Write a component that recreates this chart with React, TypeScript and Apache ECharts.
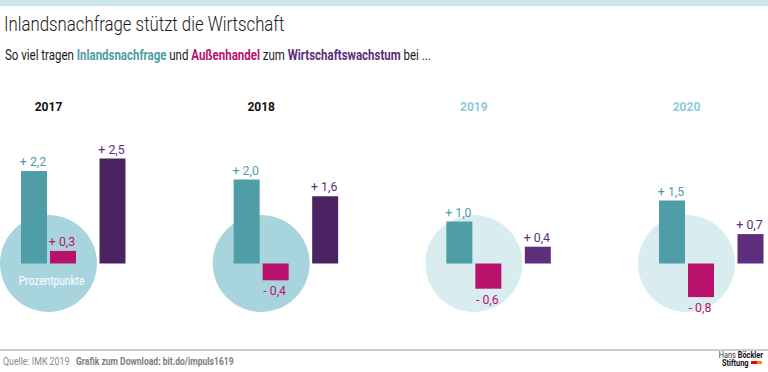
import React, { useEffect, useRef } from "react";
import * as echarts from "echarts";

const years = ["2017", "2018", "2019", "2020"];
const forecast = [false, false, true, true];
const inland = [2.2, 2.0, 1.0, 1.5];
const aussen = [0.3, -0.4, -0.6, -0.8];
const wachstum = [2.5, 1.6, 0.4, 0.7];

const FONT = "Roboto, 'Noto Sans', sans-serif";

const TEAL = "#4f9da6";
const MAGENTA = "#b8126d";
const PURPLE_DARK = "#4b2362";
const PURPLE_LIGHT = "#5c2e7b";
const PURPLE_LABEL = "#5a2d78";

const fmt = (v: number) => (v >= 0 ? "+ " : "- ") + Math.abs(v).toFixed(1).replace(".", ",");

function txt(text: string, x: number, y: number, font: string, fill: string, sx = 1, align = "left", extra: any = {}) {
  return {
    type: "text",
    x,
    y,
    scaleX: sx,
    style: { text, x: 0, y: 0, font, fill, align, verticalAlign: "middle", ...extra },
  };
}

function barSeries(name: string, values: number[], offset: number, colorFn: (i: number) => string, labelColor: string) {
  return {
    type: "custom",
    name,
    z: 3,
    clip: false,
    encode: { x: 0, y: 1 },
    data: values.map((v, i) => [i, v]),
    renderItem: (_params: any, api: any) => {
      const i = api.value(0);
      const v = api.value(1);
      const base = api.coord([i, 0]);
      const top = api.coord([i, v]);
      const x = base[0] + offset;
      const y0 = Math.min(base[1], top[1]);
      const h = Math.abs(base[1] - top[1]);
      const pos = v >= 0;
      return {
        type: "group",
        children: [
          { type: "rect", shape: { x, y: y0, width: 26, height: h }, style: { fill: colorFn(i) } },
          {
            type: "text",
            x: x + 12,
            y: pos ? y0 - 3 : y0 + h + 4,
            scaleX: 0.95,
            style: {
              text: fmt(v),
              x: 0,
              y: 0,
              align: "center",
              verticalAlign: pos ? "bottom" : "top",
              fill: labelColor,
              font: `13px ${FONT}`,
            },
          },
        ],
      };
    },
  };
}

export default function App() {
  const ref = useRef<HTMLDivElement>(null);
  useEffect(() => {
    if (!ref.current) return;
    const chart = echarts.init(ref.current, null, { renderer: "svg" });
    const option: any = {
      animation: false,
      grid: { left: 48.5, right: 81.5, top: 137.5, bottom: 45.5 },
      xAxis: {
        type: "category",
        data: years,
        boundaryGap: false,
        position: "top",
        axisLine: { show: false },
        axisTick: { show: false },
        splitLine: { show: false },
        axisLabel: {
          margin: 25,
          formatter: (v: string, idx: number) => (forecast[idx] ? `{f|${v}}` : `{a|${v}}`),
          rich: {
            a: { fontFamily: FONT, fontWeight: "bold", fontSize: 12, color: "#111" },
            f: { fontFamily: FONT, fontWeight: "bold", fontSize: 12, color: "#8ecadb" },
          },
        },
      },
      yAxis: { type: "value", min: -1.5, max: 3, show: false },
      graphic: [
        { type: "rect", shape: { x: 0, y: 0, width: 768, height: 6 }, style: { fill: "#cfe4ee" } },
        txt("Inlandsnachfrage stützt die Wirtschaft", 4, 24, `300 21px ${FONT}`, "#1a1a1a", 0.8),
        {
          type: "text",
          x: 5,
          y: 55,
          scaleX: 0.82,
          style: {
            text: "{n|So viel tragen }{t|Inlandsnachfrage}{n| und }{m|Außenhandel}{n| zum }{p|Wirtschaftswachstum}{n| bei ...}",
            x: 0,
            y: 0,
            verticalAlign: "middle",
            rich: {
              n: { fontFamily: FONT, fontSize: 14, fill: "#1a1a1a" },
              t: { fontFamily: FONT, fontSize: 14, fontWeight: "bold", fill: TEAL },
              m: { fontFamily: FONT, fontSize: 14, fontWeight: "bold", fill: MAGENTA },
              p: { fontFamily: FONT, fontSize: 14, fontWeight: "bold", fill: PURPLE_LABEL },
            },
          },
        },
        { type: "line", shape: { x1: 0, y1: 350, x2: 768, y2: 350 }, style: { stroke: "#9a9a9a", lineWidth: 1 } },
        txt("Quelle: IMK 2019", 3, 361, `11px ${FONT}`, "#8a8a8a", 0.8),
        txt("Grafik zum Download: bit.do/impuls1619", 76, 361, `bold 11px ${FONT}`, "#808080", 0.78),
        {
          type: "text",
          x: 763,
          y: 355,
          scaleX: 0.82,
          style: {
            text: "{a|Hans }{b|Böckler}",
            x: 0,
            y: 0,
            align: "right",
            verticalAlign: "middle",
            rich: {
              a: { fontFamily: FONT, fontSize: 9, fill: "#333" },
              b: { fontFamily: FONT, fontSize: 9, fontWeight: "bold", fill: "#111" },
            },
          },
        },
        txt("Stiftung", 722, 362.5, `bold 9px ${FONT}`, "#111", 0.82),
        { type: "rect", shape: { x: 751, y: 361, width: 6, height: 3 }, style: { fill: "#e2001a" } },
        { type: "rect", shape: { x: 757, y: 361, width: 5, height: 3 }, style: { fill: "#f39200" } },
      ],
      series: [
        {
          type: "custom",
          name: "Kreise",
          z: 1,
          clip: false,
          encode: { x: 0 },
          data: years.map((_, i) => [i]),
          renderItem: (_params: any, api: any) => {
            const i = api.value(0);
            const c = api.coord([i, 0]);
            const children: any[] = [
              {
                type: "circle",
                shape: { cx: c[0], cy: c[1], r: 48.5 },
                style: { fill: forecast[i] ? "#d9ecf0" : "#a8d5dd" },
              },
            ];
            if (i === 0) {
              children.push({
                type: "text",
                x: c[0] + 3,
                y: c[1] + 18,
                scaleX: 0.85,
                style: {
                  text: "Prozentpunkte",
                  x: 0,
                  y: 0,
                  align: "center",
                  verticalAlign: "middle",
                  fill: "#ffffff",
                  font: `12px ${FONT}`,
                },
              });
            }
            return { type: "group", children };
          },
        },
        barSeries("Inlandsnachfrage", inland, -27.5, () => TEAL, TEAL),
        barSeries("Außenhandel", aussen, 1.5, () => MAGENTA, MAGENTA),
        barSeries("Wirtschaftswachstum", wachstum, 51, (i) => (forecast[i] ? PURPLE_LIGHT : PURPLE_DARK), PURPLE_LABEL),
      ],
    };
    chart.setOption(option);
    return () => chart.dispose();
  }, []);
  return (
    <div
      ref={ref}
      style={{ position: "fixed", left: 0, top: 0, width: 768, height: 372, background: "#fff" }}
    />
  );
}
